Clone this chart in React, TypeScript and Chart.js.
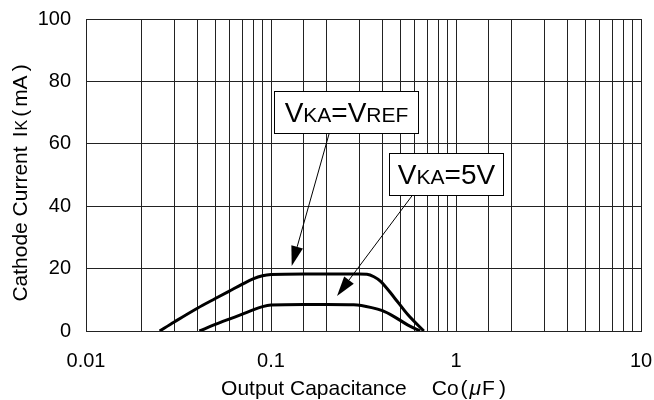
import React, { useEffect, useRef } from 'react';
import { Chart, registerables } from 'chart.js';

Chart.register(...registerables);

const FONT = "'Liberation Sans', Arial, Helvetica, sans-serif";

// ---- data ----
const xTickLabels = ['0.01', '0.1', '1', '10'];
const yTickValues = [0, 20, 40, 60, 80, 100];

const vrefCapacitance = [0.025, 0.03, 0.04, 0.05, 0.06, 0.07, 0.08, 0.09, 0.1, 0.15, 0.2, 0.3, 0.33, 0.36, 0.39, 0.46, 0.55, 0.67];
const vrefCurrent = [0, 2.9, 7.3, 10.4, 12.9, 15.0, 16.7, 17.7, 18.1, 18.3, 18.3, 18.3, 18.2, 17.4, 16.0, 11.0, 5.2, 0];

const v5Capacitance = [0.041, 0.05, 0.06, 0.07, 0.08, 0.09, 0.1, 0.15, 0.2, 0.28, 0.35, 0.4, 0.46, 0.55, 0.64];
const v5Current = [0, 2.1, 3.9, 5.4, 6.8, 7.8, 8.3, 8.5, 8.5, 8.4, 7.5, 6.5, 4.7, 1.9, 0];

// ---- annotations (data coordinates) ----
type Seg = { t: string; font: string; gap?: number };
const BIG = `28px ${FONT}`;
const SMALL = `21px ${FONT}`;

const annotations = [
  {
    parts: [
      { t: 'V', font: BIG },
      { t: 'KA', font: SMALL },
      { t: '=V', font: BIG },
      { t: 'REF', font: SMALL },
    ] as Seg[],
    box: { x0: 0.1038, x1: 0.6254, y0: 63.4, y1: 76.9 },
    from: { x: 0.2065, y: 63.4 },
    to: { x: 0.1294, y: 20.8 },
  },
  {
    parts: [
      { t: 'V', font: BIG },
      { t: 'KA', font: SMALL },
      { t: '=5V', font: BIG },
    ] as Seg[],
    box: { x0: 0.436, x1: 1.8, y0: 43.6, y1: 56.96 },
    from: { x: 0.583, y: 43.6 },
    to: { x: 0.2274, y: 11.2 },
  },
];

const T21 = `21px ${FONT}`;
const yTitle: Seg[] = [
  { t: 'Cathode Current', font: T21 },
  { t: 'I', font: T21, gap: 9 },
  { t: 'K', font: `16px ${FONT}`, gap: 1 },
  { t: '(', font: T21, gap: 3 },
  { t: 'mA', font: T21, gap: 3 },
  { t: ')', font: T21, gap: 4 },
];
const xTitle: Seg[] = [
  { t: 'Output Capacitance', font: T21 },
  { t: 'Co', font: T21, gap: 25 },
  { t: '(', font: T21, gap: 2 },
  { t: 'μ', font: `italic 21px ${FONT}`, gap: 2 },
  { t: 'F', font: T21, gap: 1 },
  { t: ')', font: T21, gap: 4 },
];

function segWidth(ctx: CanvasRenderingContext2D, segs: Seg[]) {
  let w = 0;
  for (const s of segs) {
    ctx.font = s.font;
    w += (s.gap || 0) + ctx.measureText(s.t).width;
  }
  return w;
}
function drawSegs(ctx: CanvasRenderingContext2D, segs: Seg[], x: number, y: number) {
  let cx = x;
  for (const s of segs) {
    ctx.font = s.font;
    cx += s.gap || 0;
    ctx.fillText(s.t, cx, y);
    cx += ctx.measureText(s.t).width;
  }
}

const decor = {
  id: 'decor',
  afterDraw(chart: any) {
    const { ctx, chartArea } = chart;
    const xs = chart.scales.x;
    const ys = chart.scales.y;
    ctx.save();
    ctx.fillStyle = '#000';
    ctx.strokeStyle = '#000';
    ctx.textAlign = 'left';
    ctx.textBaseline = 'alphabetic';

    for (const a of annotations) {
      const fx = xs.getPixelForValue(a.from.x);
      const fy = ys.getPixelForValue(a.from.y);
      const tx = xs.getPixelForValue(a.to.x);
      const ty = ys.getPixelForValue(a.to.y);
      const ang = Math.atan2(ty - fy, tx - fx);
      const headLen = 20;
      const headW = 6;
      const bx = tx - headLen * Math.cos(ang);
      const by = ty - headLen * Math.sin(ang);
      ctx.lineWidth = 1;
      ctx.beginPath();
      ctx.moveTo(fx, fy);
      ctx.lineTo(bx, by);
      ctx.stroke();
      ctx.beginPath();
      ctx.moveTo(tx, ty);
      ctx.lineTo(bx + headW * Math.sin(ang), by - headW * Math.cos(ang));
      ctx.lineTo(bx - headW * Math.sin(ang), by + headW * Math.cos(ang));
      ctx.closePath();
      ctx.fill();

      const left = Math.round(xs.getPixelForValue(a.box.x0)) + 0.5;
      const right = Math.round(xs.getPixelForValue(a.box.x1)) + 0.5;
      const top = Math.round(ys.getPixelForValue(a.box.y1)) + 0.5;
      const bottom = Math.round(ys.getPixelForValue(a.box.y0)) + 0.5;
      ctx.fillStyle = '#fff';
      ctx.fillRect(left, top, right - left, bottom - top);
      ctx.strokeRect(left, top, right - left, bottom - top);
      ctx.fillStyle = '#000';
      const w = segWidth(ctx, a.parts);
      drawSegs(ctx, a.parts, (left + right) / 2 - w / 2, (top + bottom) / 2 + 9.5);
    }

    // axis titles
    const cxMid = (chartArea.left + chartArea.right) / 2;
    const xw = segWidth(ctx, xTitle);
    drawSegs(ctx, xTitle, cxMid - xw / 2, 395);

    const cyMid = (chartArea.top + chartArea.bottom) / 2 + 8;
    const yw = segWidth(ctx, yTitle);
    ctx.translate(27, cyMid);
    ctx.rotate(-Math.PI / 2);
    drawSegs(ctx, yTitle, -yw / 2, 0);
    ctx.restore();
  },
};

export default function App() {
  const ref = useRef<HTMLCanvasElement>(null);
  useEffect(() => {
    const chart = new Chart(ref.current as HTMLCanvasElement, {
      type: 'line',
      data: {
        datasets: [
          {
            label: 'VKA=VREF',
            data: vrefCapacitance.map((c, i) => ({ x: c, y: vrefCurrent[i] })),
            borderColor: '#000',
            borderWidth: 3,
            pointRadius: 0,
            cubicInterpolationMode: 'monotone',
            fill: false,
          },
          {
            label: 'VKA=5V',
            data: v5Capacitance.map((c, i) => ({ x: c, y: v5Current[i] })),
            borderColor: '#000',
            borderWidth: 3,
            pointRadius: 0,
            cubicInterpolationMode: 'monotone',
            fill: false,
          },
        ],
      },
      options: {
        responsive: false,
        animation: false,
        devicePixelRatio: 1,
        layout: { padding: { left: 0, right: 13, top: 19, bottom: 0 } },
        plugins: { legend: { display: false }, tooltip: { enabled: false } },
        scales: {
          x: {
            type: 'logarithmic',
            min: 0.01,
            max: 10,
            grid: { color: '#222', lineWidth: 1, drawTicks: false },
            border: { display: true, color: '#222', width: 1 },
            ticks: {
              autoSkip: false,
              maxRotation: 0,
              minRotation: 0,
              padding: 18,
              color: '#000',
              font: { family: FONT, size: 20 },
              callback: (value: any) => {
                const l = Math.log10(Number(value));
                if (Math.abs(l - Math.round(l)) < 1e-6) {
                  return xTickLabels[Math.round(l) + 2] ?? '';
                }
                return '';
              },
            },
            afterFit: (s: any) => {
              s.height = 69;
              s.paddingLeft = 0;
              s.paddingRight = 0;
            },
          },
          y: {
            min: yTickValues[0],
            max: yTickValues[yTickValues.length - 1],
            grid: { color: '#222', lineWidth: 1, drawTicks: false },
            border: { display: true, color: '#222', width: 1 },
            ticks: {
              stepSize: 20,
              padding: 15,
              color: '#000',
              font: { family: FONT, size: 20 },
            },
            afterFit: (s: any) => {
              s.width = 86;
              s.paddingTop = 0;
              s.paddingBottom = 0;
            },
          },
        },
      } as any,
      plugins: [decor],
    });
    return () => chart.destroy();
  }, []);
  return (
    <div style={{ position: 'fixed', left: 0, top: 0, width: 654, height: 400, background: '#fff' }}>
      <canvas ref={ref} width={654} height={400} style={{ display: 'block' }} />
    </div>
  );
}
